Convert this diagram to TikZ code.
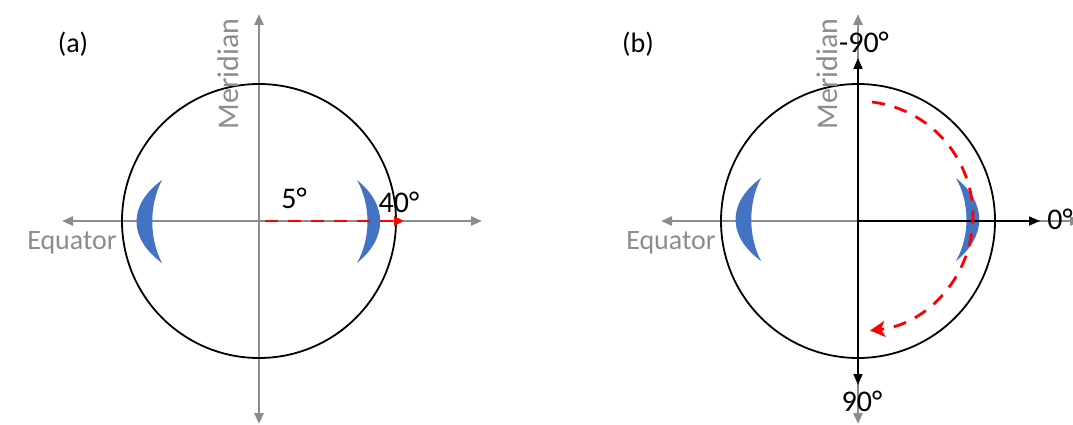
\documentclass[tikz,border=0pt]{standalone}
\usepackage{fontspec}
\setmainfont{Carlito}
\usetikzlibrary{arrows.meta}
\definecolor{axisgray}{HTML}{8C8C8C}
\definecolor{lensblue}{HTML}{4472C4}
\definecolor{pathred}{HTML}{FF0000}

\begin{document}
\begin{tikzpicture}[x=1pt,y=-1pt,
  grayaxis/.style={draw=axisgray,line width=2.6pt,{Triangle[length=11pt,width=9pt]}-{Triangle[length=11pt,width=9pt]}},
  blackaxis/.style={draw=black,line width=1.6pt,-{Triangle[length=11pt,width=9pt]}},
  globe/.style={draw=black,line width=1.8pt},
  lens/.style={fill=lensblue},
  redpath/.style={draw=pathred,line width=2.8pt,dash pattern=on 13pt off 10pt},
  axislabel/.style={text=axisgray,inner sep=0pt,font=\fontsize{30}{36}\selectfont},
  eqlabel/.style={text=axisgray,inner sep=0pt,font=\fontsize{28}{34}\selectfont},
  anglabel/.style={inner sep=0pt,font=\fontsize{30}{36}\selectfont},
  panellabel/.style={inner sep=0pt,font=\fontsize{28}{34}\selectfont}]
\clip (0,0) rectangle (1073,425);
% common parts of both panels
\foreach \cx/\ty in {259/180,858/178}{
  \draw[grayaxis] (\cx-197,221) -- (\cx+223,221);
  \draw[grayaxis] (\cx,14) -- (\cx,424);
  \draw[globe] (\cx,221) circle[radius=137];
  \fill[lens] (\cx-97,\ty) .. controls (\cx-131,\ty+25) and (\cx-131,\ty+58) .. (\cx-97,\ty+83)
     .. controls (\cx-110,\ty+58) and (\cx-110,\ty+25) .. cycle;
  \fill[lens] (\cx+98,\ty) .. controls (\cx+129,\ty+25) and (\cx+129,\ty+58) .. (\cx+98,\ty+83)
     .. controls (\cx+112,\ty+58) and (\cx+112,\ty+25) .. cycle;
  \node[axislabel,rotate=90] (meridian\cx) at (\cx-31,74) {Meridian};
  \node[eqlabel] (equator\cx) at (\cx-187,243) {Equator};
}
% (a)
\node[panellabel] (labelA) at (73,44) {(a)};
\coordinate (startA) at (265,221);
\coordinate (endA) at (404,221);
\draw[redpath,-{Triangle[length=10pt,width=9pt]}] (startA) -- (endA);
\node[anglabel] (five) at (294,198) {5°};
\node[anglabel] (forty) at (399,202) {40°};
% (b)
\node[panellabel] (labelB) at (638,44) {(b)};
\coordinate (centerB) at (858,221);
\coordinate (eastB) at (1040,221);
\coordinate (northB) at (858,58);
\coordinate (southB) at (858,385);
\draw[blackaxis] (centerB) -- (eastB);
\draw[blackaxis] (centerB) -- (northB);
\draw[blackaxis] (centerB) -- (southB);
\node[anglabel] (zero) at (1060,219) {0°};
\node[anglabel] (minusninety) at (864,42) {-90°};
\node[anglabel] (ninety) at (862,401) {90°};
\coordinate (arcstart) at (872,102);
\draw[redpath,-{Stealth[length=15pt,width=16pt,inset=4pt]}] (arcstart) arc[start angle=-83,end angle=84,radius=115];
\end{tikzpicture}
\end{document}
